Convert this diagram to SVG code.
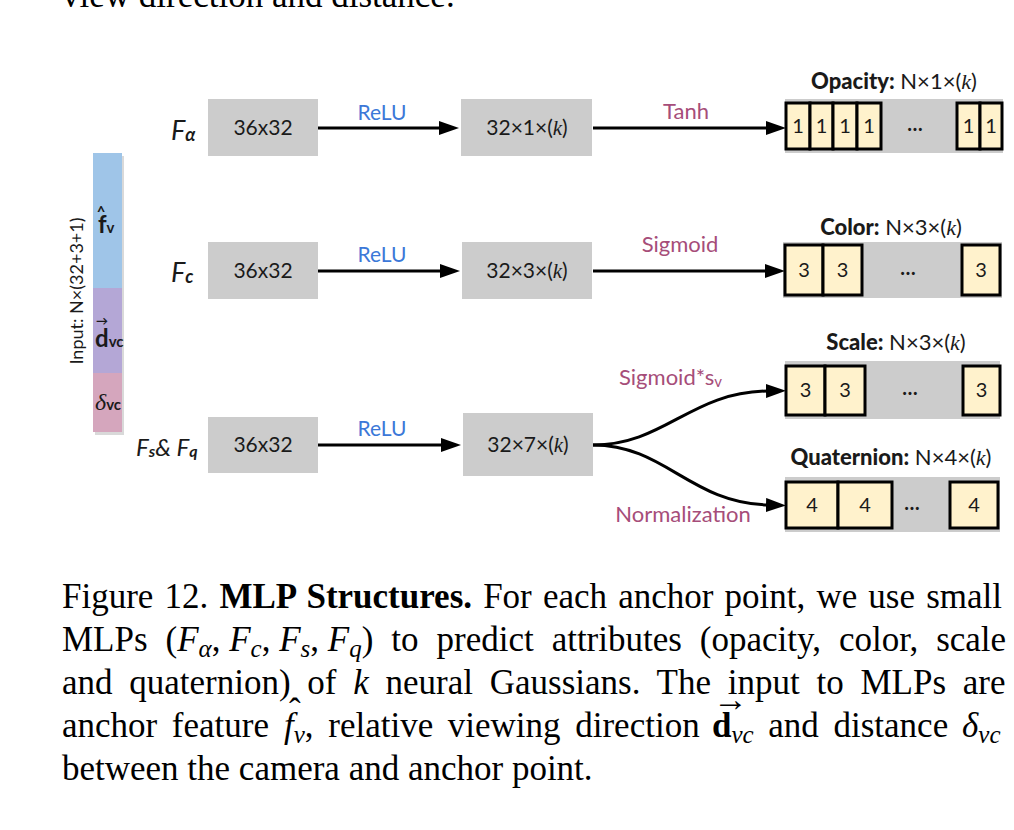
<svg xmlns="http://www.w3.org/2000/svg" width="1014" height="830" viewBox="0 0 1014 830">
<defs>
<marker id="ah" markerUnits="userSpaceOnUse" markerWidth="20" markerHeight="14" refX="2" refY="7" orient="auto"><path d="M0,0 L20,7 L0,14 z" fill="#000"/></marker>
</defs>
<style>
.box{fill:#cccccc}
.t{font-family:Lato,'Noto Sans',sans-serif;fill:#1a1a1a}
.c{text-anchor:middle}
.k{font-family:'Liberation Serif',serif;font-style:italic}
.cell{fill:#fff2cc;stroke:#000;stroke-width:3}
.relu{fill:#3c78d8;font-size:21px}
.act{fill:#a64d79;font-size:22px}
.edge{fill:none;stroke:#000;stroke-width:3;marker-end:url(#ah)}
.cap{font-family:'Liberation Serif','Times New Roman',serif;font-size:35px;fill:#000}
.ct{font-size:20px}
.ti{font-size:22px}
.bl{font-size:21px}
</style>
<rect width="1014" height="830" fill="#fff"/>

<text class="cap" x="62" y="7">view direction and distance.</text>

<g id="input">
<rect x="95" y="156" width="29" height="279" fill="#000" opacity="0.15"/>
<rect x="93" y="153" width="29" height="135" fill="#9fc5e8"/>
<rect x="93" y="288" width="29" height="85" fill="#b4a7d6"/>
<rect x="93" y="373" width="29" height="59" fill="#d5a6bd"/>
<text class="t c" font-size="18" transform="translate(83,291) rotate(-90)">Input: N×(32+3+1)</text>
<text class="t" font-weight="bold" font-size="24" x="98" y="233">f<tspan font-size="15">v</tspan></text>
<text class="t c" font-weight="bold" font-size="15" x="101" y="217">^</text>
<text class="t" font-weight="bold" font-size="24" x="95" y="347">d<tspan font-size="15">vc</tspan></text>
<text class="t c" font-weight="bold" font-size="12" x="102" y="325">→</text>
<text class="t" font-size="24" x="95" y="410"><tspan class="k">δ</tspan><tspan font-weight="bold" font-size="15">vc</tspan></text>
</g>

<g id="labels">
<text class="t" font-style="italic" font-size="27" x="171" y="140">F<tspan font-size="18" dy="1" font-weight="bold">α</tspan></text>
<text class="t" font-style="italic" font-size="27" x="171" y="282">F<tspan font-size="18" dy="1" font-weight="bold">c</tspan></text>
<text class="t" font-style="italic" font-size="24" x="136" y="456">F<tspan font-size="16" dy="1" font-weight="bold">s</tspan><tspan dy="-1">&amp; F</tspan><tspan font-size="16" dy="1" font-weight="bold">q</tspan></text>
</g>

<g id="fa-in"><rect class="box" x="208" y="99" width="110" height="57"/><text class="t c bl" x="263" y="135">36x32</text></g>
<g id="fa-hid"><rect class="box" x="461" y="99" width="131" height="57"/><text class="t c bl" x="527" y="135">32×1×(<tspan class="k">k</tspan>)</text></g>
<g id="fc-in"><rect class="box" x="208" y="242" width="110" height="57"/><text class="t c bl" x="263" y="278">36x32</text></g>
<g id="fc-hid"><rect class="box" x="462" y="242" width="130" height="57"/><text class="t c bl" x="527" y="278">32×3×(<tspan class="k">k</tspan>)</text></g>
<g id="fsq-in"><rect class="box" x="208" y="417" width="110" height="56"/><text class="t c bl" x="263" y="452">36x32</text></g>
<g id="fsq-hid"><rect class="box" x="463" y="413" width="130" height="63"/><text class="t c bl" x="528" y="452">32×7×(<tspan class="k">k</tspan>)</text></g>

<g id="opacity">
<text class="t c ti" x="894" y="89"><tspan font-weight="900">Opacity:</tspan> N×1×(<tspan class="k">k</tspan>)</text>
<rect class="box" x="785" y="99" width="218" height="54"/>
<rect class="cell" x="786" y="103" width="24" height="46"/>
<rect class="cell" x="810" y="103" width="23" height="46"/>
<rect class="cell" x="833" y="103" width="24" height="46"/>
<rect class="cell" x="857" y="103" width="24" height="46"/>
<rect class="cell" x="957" y="103" width="23" height="46"/>
<rect class="cell" x="980" y="103" width="22" height="46"/>
<g class="t c ct"><text x="798" y="133">1</text><text x="821.5" y="133">1</text><text x="845" y="133">1</text><text x="869" y="133">1</text><text x="968.5" y="133">1</text><text x="991" y="133">1</text><text x="915" y="131" font-weight="bold">…</text></g>
</g>

<g id="color">
<text class="t c ti" x="891" y="235"><tspan font-weight="900">Color:</tspan> N×3×(<tspan class="k">k</tspan>)</text>
<rect class="box" x="783" y="242" width="219" height="56"/>
<rect class="cell" x="785" y="245" width="38" height="50"/>
<rect class="cell" x="823" y="245" width="39" height="50"/>
<rect class="cell" x="962" y="245" width="38" height="50"/>
<g class="t c ct"><text x="804" y="277">3</text><text x="842.5" y="277">3</text><text x="981" y="277">3</text><text x="908" y="275" font-weight="bold">…</text></g>
</g>

<g id="scale">
<text class="t c ti" x="896" y="350"><tspan font-weight="900">Scale:</tspan> N×3×(<tspan class="k">k</tspan>)</text>
<rect class="box" x="785" y="361" width="215" height="58"/>
<rect class="cell" x="786" y="366" width="39" height="49"/>
<rect class="cell" x="825" y="366" width="40" height="49"/>
<rect class="cell" x="963" y="366" width="37" height="49"/>
<g class="t c ct"><text x="805.5" y="397">3</text><text x="845" y="397">3</text><text x="981.5" y="397">3</text><text x="910" y="395" font-weight="bold">…</text></g>
</g>

<g id="quaternion">
<text class="t c ti" x="891" y="465"><tspan font-weight="900">Quaternion:</tspan> N×4×(<tspan class="k">k</tspan>)</text>
<rect class="box" x="785" y="477" width="215" height="55"/>
<rect class="cell" x="786" y="482" width="52" height="46"/>
<rect class="cell" x="838" y="482" width="54" height="46"/>
<rect class="cell" x="950" y="482" width="48" height="46"/>
<g class="t c ct"><text x="812" y="512">4</text><text x="865" y="512">4</text><text x="974" y="512">4</text><text x="912" y="510" font-weight="bold">…</text></g>
</g>

<g id="connectors">
<line class="edge" x1="318" y1="128" x2="441" y2="128"/>
<line class="edge" x1="593" y1="128" x2="768" y2="128"/>
<line class="edge" x1="318" y1="271" x2="442" y2="271"/>
<line class="edge" x1="593" y1="271" x2="767" y2="271"/>
<line class="edge" x1="318" y1="445" x2="443" y2="445"/>
<path class="edge" d="M593,445 C665,445 690,392 768,391"/>
<path class="edge" d="M593,445 C665,445 690,503 768,505"/>
<text class="t c relu" x="382" y="120">ReLU</text>
<text class="t c relu" x="382" y="262">ReLU</text>
<text class="t c relu" x="382" y="436">ReLU</text>
<text class="t c act" x="686" y="119">Tanh</text>
<text class="t c act" x="680" y="252">Sigmoid</text>
<text class="t act" x="619" y="385">Sigmoid*s<tspan font-size="15" dy="2">v</tspan></text>
<text class="t c act" x="683" y="522">Normalization</text>
</g>

<g id="caption">
<text class="cap" x="62" y="608" word-spacing="2.4">Figure 12. <tspan font-weight="bold">MLP Structures.</tspan> For each anchor point, we use small</text>
<text class="cap" x="62" y="651" word-spacing="9.2">MLPs (<tspan word-spacing="0"><tspan font-style="italic">F</tspan><tspan font-style="italic" font-size="25" dy="6">α</tspan><tspan dy="-6">, </tspan><tspan font-style="italic">F</tspan><tspan font-style="italic" font-size="25" dy="6">c</tspan><tspan dy="-6">, </tspan><tspan font-style="italic">F</tspan><tspan font-style="italic" font-size="25" dy="6">s</tspan><tspan dy="-6">, </tspan><tspan font-style="italic">F</tspan><tspan font-style="italic" font-size="25" dy="6">q</tspan><tspan dy="-6">)</tspan></tspan> to predict attributes (opacity, color, scale</text>
<text class="cap" x="62" y="694" word-spacing="8">and quaternion) of <tspan font-style="italic">k</tspan> neural Gaussians. The input to MLPs are</text>
<text class="cap" x="62" y="737" word-spacing="5.9">anchor feature <tspan x="284" font-style="italic">f</tspan><tspan font-style="italic" font-size="25" dy="6">v</tspan><tspan dy="-6">, relative viewing direction </tspan><tspan x="712" font-weight="bold">d</tspan><tspan font-style="italic" font-size="25" dy="6">vc</tspan><tspan dy="-6"> and distance </tspan><tspan x="962" font-style="italic">δ</tspan><tspan font-style="italic" font-size="25" dy="6">vc</tspan></text>
<text class="cap" x="289" y="723">ˆ</text>
<text class="cap" x="713" y="711" font-size="15">→</text>
<text class="cap" x="62" y="780">between the camera and anchor point.</text>
</g>
</svg>
